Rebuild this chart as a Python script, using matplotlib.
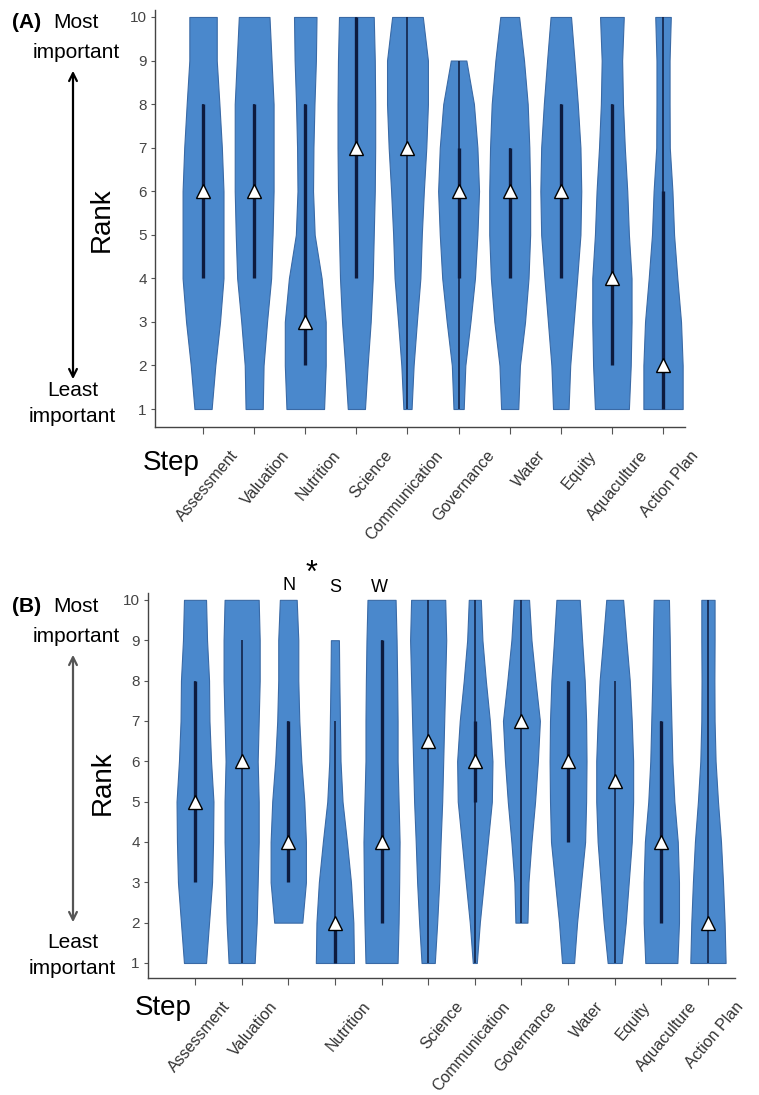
import numpy as np
import matplotlib
matplotlib.use("Agg")
import matplotlib.pyplot as plt
from matplotlib.patches import FancyArrowPatch
from matplotlib.transforms import ScaledTranslation

plt.rcParams['font.family'] = ['Liberation Sans', 'DejaVu Sans']

# ---- data ----
ranks = np.arange(1, 11)
nan = np.nan

# panel A
steps_a = ["Assessment", "Valuation", "Nutrition", "Science", "Communication",
           "Governance", "Water", "Equity", "Aquaculture", "Action Plan"]
# relative violin width at rank 1..10
widths_a = [
    [0.42, 0.60, 0.83, 1.00, 1.00, 1.00, 0.92, 0.80, 0.67, 0.67],
    [0.42, 0.46, 0.63, 0.83, 0.90, 0.95, 0.95, 0.95, 0.85, 0.75],
    [0.92, 1.00, 1.00, 0.80, 0.46, 0.38, 0.40, 0.45, 0.52, 0.55],
    [0.42, 0.55, 0.70, 0.80, 0.85, 0.90, 0.92, 0.92, 0.90, 0.85],
    [0.20, 0.30, 0.46, 0.63, 0.70, 0.80, 0.92, 1.00, 1.00, 0.75],
    [0.25, 0.33, 0.58, 0.80, 0.92, 1.00, 0.92, 0.75, 0.38, nan],
    [0.42, 0.50, 0.75, 0.92, 1.00, 1.00, 0.96, 0.88, 0.70, 0.46],
    [0.38, 0.46, 0.63, 0.80, 0.96, 1.00, 0.96, 0.83, 0.67, 0.50],
    [0.83, 0.92, 0.96, 0.96, 0.83, 0.75, 0.63, 0.54, 0.50, 0.58],
    [0.96, 0.96, 0.88, 0.70, 0.54, 0.46, 0.33, 0.32, 0.32, 0.38],
]
med_a = [6, 6, 3, 7, 7, 6, 6, 6, 4, 2]
iqr_lo_a = [4, 4, 2, 4, nan, 4, 4, 4, 2, 1]
iqr_hi_a = [8, 8, 8, 10, nan, 7, 7, 8, 8, 6]
wh_lo_a = [4, 4, 2, 4, 1, 1, 4, 4, 2, 1]
wh_hi_a = [8, 8, 8, 10, 10, 9, 7, 8, 8, 10]

# panel B
steps_b = ["Assessment", "Valuation", "", "Nutrition", "", "Science",
           "Communication", "Governance", "Water", "Equity", "Aquaculture",
           "Action Plan"]
widths_b = [
    [0.55, 0.70, 0.85, 0.90, 0.92, 0.80, 0.72, 0.70, 0.60, 0.55],
    [0.65, 0.75, 0.80, 0.85, 0.85, 0.80, 0.85, 0.90, 0.90, 0.85],
    [nan, 0.70, 0.88, 0.88, 0.80, 0.65, 0.55, 0.50, 0.50, 0.42],
    [0.95, 0.92, 0.80, 0.60, 0.38, 0.28, 0.25, 0.22, 0.20, nan],
    [0.80, 0.85, 0.88, 0.90, 0.85, 0.80, 0.80, 0.78, 0.75, 0.70],
    [0.33, 0.45, 0.55, 0.62, 0.70, 0.75, 0.80, 0.85, 0.90, 0.85],
    [0.10, 0.25, 0.45, 0.65, 0.85, 0.88, 0.75, 0.55, 0.38, 0.30],
    [nan, 0.30, 0.35, 0.50, 0.68, 0.82, 0.92, 0.70, 0.50, 0.38],
    [0.30, 0.45, 0.65, 0.85, 0.90, 0.92, 0.90, 0.83, 0.70, 0.58],
    [0.35, 0.55, 0.70, 0.85, 0.92, 0.92, 0.85, 0.75, 0.58, 0.42],
    [0.80, 0.88, 0.88, 0.82, 0.65, 0.55, 0.50, 0.45, 0.42, 0.38],
    [0.88, 0.83, 0.75, 0.65, 0.50, 0.38, 0.33, 0.32, 0.33, 0.33],
]
med_b = [5, 6, 4, 2, 4, 6.5, 6, 7, 6, 5.5, 4, 2]
iqr_lo_b = [3, nan, 3, 1, 2, nan, 5, nan, 4, nan, 2, nan]
iqr_hi_b = [8, nan, 7, 2, 9, nan, 7, nan, 8, nan, 7, nan]
wh_lo_b = [3, 1, 3, 1, 2, 1, 1, 2, 4, 1, 2, 1]
wh_hi_b = [8, 9, 7, 7, 9, 10, 10, 10, 8, 8, 7, 10]

VIOLIN = '#4a88cc'
EDGE = '#3a6aa6'
LINE = '#0d1b3e'

W, H = 759, 1095
fig = plt.figure(figsize=(W / 100, H / 100), dpi=100)


def fx(x):
    return x / W


def fy(y):
    return 1 - y / H


def draw_panel(ax, widths, med, iqr_lo, iqr_hi, wh_lo, wh_hi, labels, half):
    pos = np.arange(1, len(widths) + 1)
    for i, p in enumerate(pos):
        w = np.array(widths[i])
        ok = ~np.isnan(w)
        ax.fill_betweenx(ranks[ok], p - w[ok] * half, p + w[ok] * half,
                         facecolor=VIOLIN, edgecolor=EDGE, lw=0.8, zorder=2)
        ax.vlines(p, wh_lo[i], wh_hi[i], color=LINE, lw=1.1, zorder=3)
        if not np.isnan(iqr_lo[i]):
            ax.vlines(p, iqr_lo[i], iqr_hi[i], color=LINE, lw=2.4, zorder=3)
    ax.plot(pos, med, ls='none', marker='^', ms=10, mfc='white',
            mec='black', mew=1.0, zorder=5)

    ax.set_yticks(ranks)
    ax.tick_params(axis='y', labelsize=11, labelcolor='#444444',
                   length=3, color='#555555', pad=3)
    ax.set_xticks(pos)
    ax.set_xticklabels(labels, rotation=50, ha='right', va='top',
                       rotation_mode='anchor', fontsize=11.5, color='#333333')
    ax.tick_params(axis='x', length=5, color='#555555', pad=10)
    offset = ScaledTranslation(0.27, 0, fig.dpi_scale_trans)
    for lab in ax.get_xticklabels():
        lab.set_transform(lab.get_transform() + offset)
    for s in ['top', 'right']:
        ax.spines[s].set_visible(False)
    for s in ['left', 'bottom']:
        ax.spines[s].set_color('#444444')
        ax.spines[s].set_linewidth(1.0)


# panel A axes
axA = fig.add_axes([fx(155), fy(427), fx(685 - 155), (427 - 10) / H])
draw_panel(axA, widths_a, med_a, iqr_lo_a, iqr_hi_a, wh_lo_a, wh_hi_a,
           steps_a, 0.40)
axA.set_xlim(0.06, 10.43)
axA.set_ylim(0.587, 10.16)

# panel B axes
axB = fig.add_axes([fx(148), fy(978), fx(735 - 148), (978 - 593) / H])
draw_panel(axB, widths_b, med_b, iqr_lo_b, iqr_hi_b, wh_lo_b, wh_hi_b,
           steps_b, 0.43)
axB.set_xlim(-0.008, 12.58)
axB.set_ylim(0.628, 10.17)

# side annotations
def side_labels(tag, y_top, y_arrow0, y_arrow1, y_least, arrow_color):
    fig.text(fx(12), fy(y_top), tag, fontsize=15, fontweight='bold',
             ha='left', va='center')
    fig.text(fx(76), fy(y_top), "Most", fontsize=15, ha='center', va='center')
    fig.text(fx(76), fy(y_top + 30), "important", fontsize=15,
             ha='center', va='center')
    fig.add_artist(FancyArrowPatch((fx(73), fy(y_arrow0)), (fx(73), fy(y_arrow1)),
                                   arrowstyle='<->', mutation_scale=14, lw=1.6,
                                   color=arrow_color, transform=fig.transFigure))
    fig.text(fx(73), fy(y_least), "Least", fontsize=15, ha='center', va='center')
    fig.text(fx(72), fy(y_least + 26), "important", fontsize=15,
             ha='center', va='center')


side_labels("(A)", 22, 68, 382, 390, 'black')
side_labels("(B)", 606, 652, 925, 942, '#555555')

fig.text(fx(102), fy(220), "Rank", fontsize=20, rotation=90,
         ha='center', va='center')
fig.text(fx(103), fy(783), "Rank", fontsize=20, rotation=90,
         ha='center', va='center')
fig.text(fx(171), fy(463), "Step", fontsize=20, ha='center', va='center')
fig.text(fx(163), fy(1008), "Step", fontsize=20, ha='center', va='center')

# significance marks above panel B
fig.text(fx(289), fy(586), "N", fontsize=13, ha='center', va='center')
fig.text(fx(312), fy(574), "*", fontsize=22, ha='center', va='center')
fig.text(fx(335), fy(588), "S", fontsize=13, ha='center', va='center')
fig.text(fx(379), fy(588), "W", fontsize=13, ha='center', va='center')

fig.savefig("out.png", dpi=100, facecolor='white')
